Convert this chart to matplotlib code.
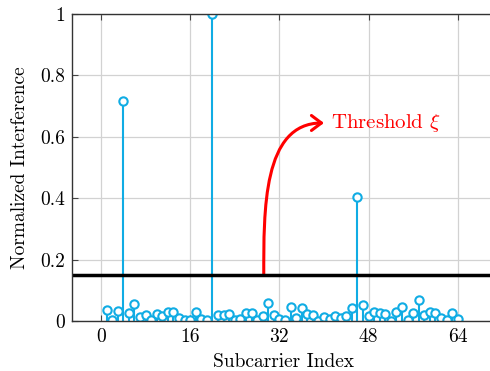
import numpy as np
import matplotlib
matplotlib.use("Agg")
import matplotlib.pyplot as plt
from matplotlib.patches import FancyArrowPatch
from matplotlib.path import Path

# ---- data ----
subcarrier = np.arange(1, 65)
interference = [
    0.035, 0.003, 0.034, 0.715, 0.025, 0.055, 0.014, 0.020,
    0.004, 0.022, 0.016, 0.030, 0.030, 0.009, 0.003, 0.004,
    0.030, 0.006, 0.004, 1.000, 0.020, 0.020, 0.022, 0.004,
    0.006, 0.027, 0.027, 0.003, 0.016, 0.060, 0.020, 0.006,
    0.003, 0.045, 0.009, 0.041, 0.022, 0.020, 0.001, 0.014,
    0.006, 0.016, 0.009, 0.016, 0.041, 0.405, 0.052, 0.016,
    0.030, 0.025, 0.023, 0.001, 0.030, 0.047, 0.003, 0.025,
    0.068, 0.020, 0.030, 0.025, 0.009, 0.003, 0.025, 0.006,
]
threshold = 0.15
xticks = [0, 16, 32, 48, 64]
yticks = [0, 0.2, 0.4, 0.6, 0.8, 1]
ytick_labels = ["0", "0.2", "0.4", "0.6", "0.8", "1"]

plt.rcParams["font.family"] = "serif"
plt.rcParams["font.serif"] = ["cmr10", "DejaVu Serif"]
plt.rcParams["mathtext.fontset"] = "cm"
plt.rcParams["axes.unicode_minus"] = False

stem_color = "#10ace4"

fig = plt.figure(figsize=(4.9, 3.71), dpi=100)
ax = fig.add_axes([72 / 490, 50 / 371, 422 / 490, 307 / 371])

ax.grid(True, color="#d2d2d2", lw=0.9)
ax.set_axisbelow(True)

markerline, stemlines, baseline = ax.stem(subcarrier, interference)
plt.setp(stemlines, color=stem_color, lw=1.5)
plt.setp(markerline, color=stem_color, marker="o", markersize=6,
         markerfacecolor="white", markeredgewidth=1.5)
baseline.set_visible(False)

ax.axhline(threshold, color="black", lw=2.5)

# curved arrow (like tikz "to[out=90,in=180]")
arrow_path = Path([(29.2, threshold), (29.2, 0.36), (29.0, 0.645), (40.0, 0.645)],
                  [Path.MOVETO, Path.CURVE4, Path.CURVE4, Path.CURVE4])
arrow = FancyArrowPatch(path=arrow_path,
                        arrowstyle="->,head_length=0.6,head_width=0.45",
                        mutation_scale=12, color="red", lw=2.2)
ax.add_patch(arrow)
ax.text(41.3, 0.645, r"Threshold $\xi$", color="red", fontsize=15,
        ha="left", va="center")

ax.set_xlim(-5.2, 70.5)
ax.set_ylim(0, 1)
ax.set_xticks(xticks)
ax.set_xticklabels([str(t) for t in xticks])
ax.set_yticks(yticks)
ax.set_yticklabels(ytick_labels)
ax.tick_params(direction="in", length=4, color="#444444", labelsize=14,
               top=True, pad=5)
for s in ["left", "bottom", "top"]:
    ax.spines[s].set_color("#333333")
    ax.spines[s].set_linewidth(1.0)
ax.spines["right"].set_visible(False)

ax.set_xlabel("Subcarrier Index", fontsize=14, labelpad=5)
ax.set_ylabel("Normalized Interference", fontsize=14, labelpad=8)

fig.savefig("out.png", dpi=100)
